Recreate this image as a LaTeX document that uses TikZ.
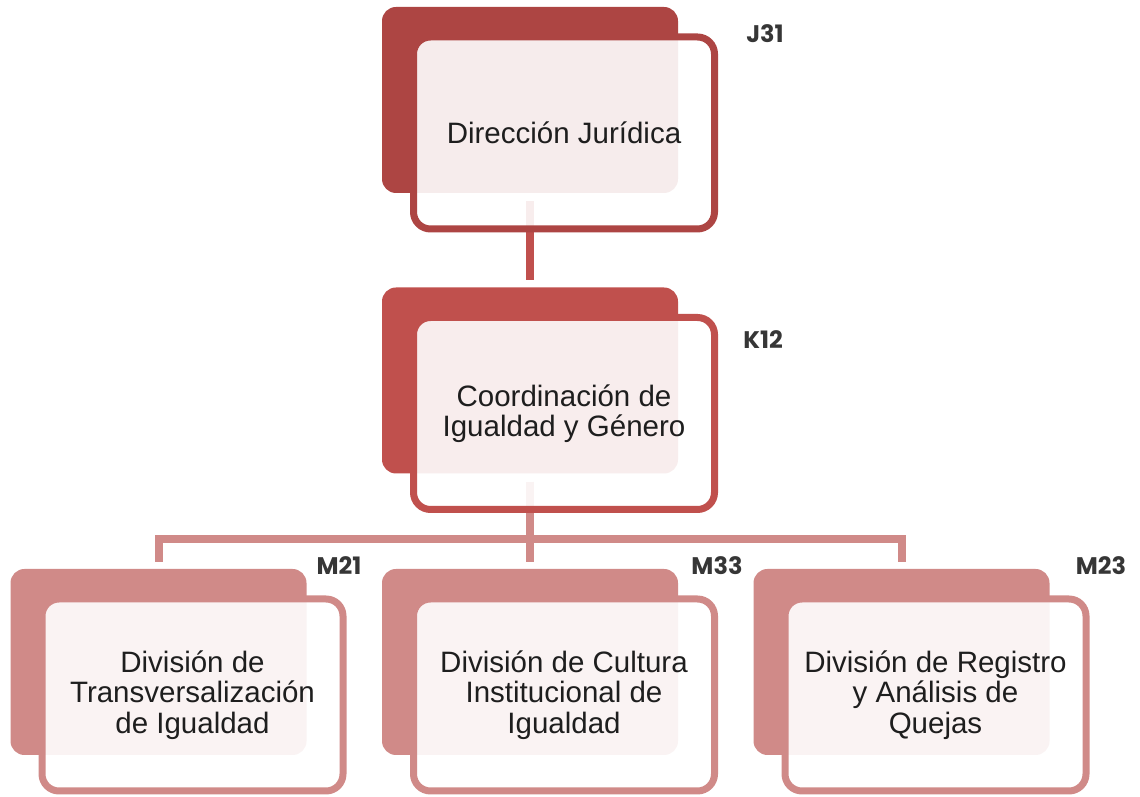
\documentclass[tikz,border=0pt]{standalone}
\usepackage{fontspec}
\setmainfont{Liberation Sans}
\newfontfamily\codefont{Poppins}
\definecolor{juridica}{HTML}{AD4543}
\definecolor{coordina}{HTML}{C0504D}
\definecolor{division}{HTML}{D08A88}
\definecolor{textgray}{HTML}{1E1E1E}
\definecolor{codegray}{HTML}{363636}
\tikzset{
    backbox/.style={fill=#1, rounded corners=14pt, minimum width=296pt, minimum height=186pt, inner sep=0pt},
    frontbox/.style={draw=#1, line width=7pt, fill=white, fill opacity=0.9, text opacity=1,
        rounded corners=17pt, minimum width=301pt, minimum height=192pt, inner sep=0pt,
        align=center, text=textgray, font=\fontsize{29.5}{30.5}\selectfont},
    link/.style={draw=#1, line width=8pt, shorten <=8pt, shorten >=7pt},
    code/.style={text=codegray, font=\codefont\bfseries\fontsize{24}{26}\selectfont}
}
\begin{document}
\begin{tikzpicture}[x=1pt,y=1pt]
    \useasboundingbox (0,0) rectangle (1140,797);

    % Back boxes
    \node[backbox=juridica] (jur-b) at (530,697) {};
    \node[backbox=coordina] (coo-b) at (530,416.5) {};
    \node[backbox=division] (tra-b) at (158.5,135) {};
    \node[backbox=division] (cul-b) at (530,135) {};
    \node[backbox=division] (que-b) at (901.5,135) {};

    % Connectors
    \coordinate (bus) at (530,258);
    \draw[link=coordina] (jur-b.south) -- (coo-b.north);
    \draw[link=division, shorten >=0pt] (coo-b.south) -- (bus);
    \draw[link=division, shorten <=0pt] (bus) -| (tra-b.north);
    \draw[link=division, shorten <=0pt] (bus) -- (cul-b.north);
    \draw[link=division, shorten <=0pt] (bus) -| (que-b.north);

    % Front boxes
    \node[frontbox=juridica] (jur) at ([shift={(34,-33)}]jur-b.center) {Dirección Jurídica};
    \node[frontbox=coordina] (coo) at ([shift={(34,-33)}]coo-b.center) {Coordinación de\\Igualdad y Género};
    \node[frontbox=division] (tra) at ([shift={(34,-33)}]tra-b.center) {División de\\Transversalización\\de Igualdad};
    \node[frontbox=division] (cul) at ([shift={(34,-33)}]cul-b.center) {División de Cultura\\Institucional de\\Igualdad};
    \node[frontbox=division] (que) at ([shift={(34,-33)}]que-b.center) {División de Registro\\y Análisis de\\Quejas};

    % Codes
    \node[code] (jur-c) at (765,763) {J31};
    \node[code] (coo-c) at (763,457) {K12};
    \node[code] (tra-c) at (339,231) {M21};
    \node[code] (cul-c) at (717,231) {M33};
    \node[code] (que-c) at (1101,231) {M23};

\end{tikzpicture}
\end{document}
